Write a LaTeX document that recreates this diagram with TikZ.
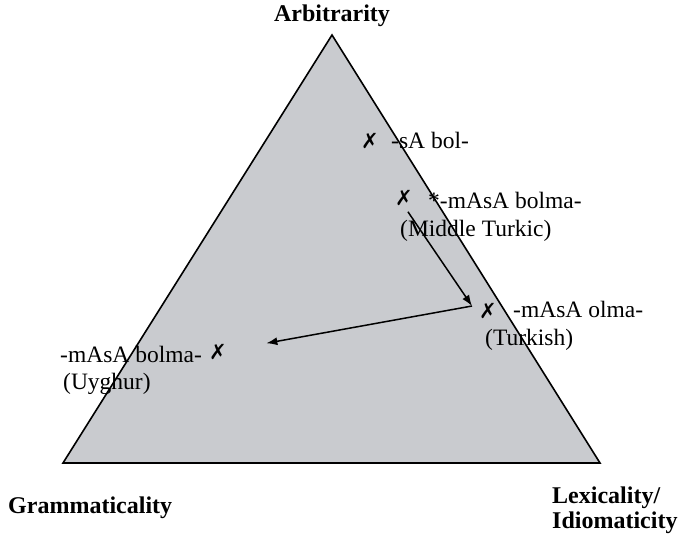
\documentclass[tikz,border=0pt]{standalone}
\usepackage{fontspec}
\setmainfont{Liberation Serif}
\newfontfamily\marksfont{DejaVu Sans}
\usepackage{tikz}
\usetikzlibrary{positioning}
\usetikzlibrary{arrows.meta}
\definecolor{planegray}{RGB}{201,203,207}
\tikzset{
corner_label/.style={font=\fontsize{24}{24}\selectfont\bfseries, inner sep=0pt},
form_label/.style={font=\fontsize{23.5}{28}\selectfont, inner sep=0pt, anchor=base west},
cross/.style={font=\marksfont\fontsize{21}{21}\selectfont, inner sep=0pt},
shift_arrow/.style={-{Latex[length=11pt, width=8pt]}, line width=1.5pt}
}

\begin{document}
\begin{tikzpicture}[x=1pt, y=-1pt]
    \useasboundingbox (0,0) rectangle (683,543);
    % the triangle
    \coordinate (top) at (332,35);
    \coordinate (left) at (63,463);
    \coordinate (right) at (600,463);
    \fill[planegray] (top) -- (left) -- (right) -- cycle;
    \draw[line width=1.6pt, line join=miter] (top) -- (left) -- (right) -- cycle;
    % corners
    \node[corner_label, anchor=base] (arb) at (332,22) {Arbitrarity};
    \node[corner_label, anchor=base west] (gram) at (8,513) {Grammaticality};
    \node[corner_label, anchor=base west] (lex) at (552,503) {Lexicality/};
    \node[corner_label, anchor=base west] (idiom) at (552,528) {Idiomaticity};
    % marks
    \node[cross] (sa) at (370,141) {✗};
    \node[cross] (mb) at (404,198) {✗};
    \node[cross] (mo) at (488,311) {✗};
    \node[cross] (mu) at (218,352) {✗};
    % forms
    \node[form_label] (sa_t) at (391,148) {-sA bol-};
    \node[form_label] (mb_t) at (428,208) {*-mAsA bolma-};
    \node[form_label] (mb_l) at (400,236) {(Middle Turkic)};
    \node[form_label] (mo_t) at (513,317) {-mAsA olma-};
    \node[form_label] (mo_l) at (485,345) {(Turkish)};
    \node[form_label] (mu_t) at (60,362) {-mAsA bolma-};
    \node[form_label] (mu_l) at (63,389) {(Uyghur)};
    % shifts
    \coordinate (turn) at (472,306);
    \draw[shift_arrow, shorten <=7pt] (mb.south) -- (turn);
    \draw[shift_arrow, shorten >=40pt] (turn) -- (mu);
\end{tikzpicture}
\end{document}
